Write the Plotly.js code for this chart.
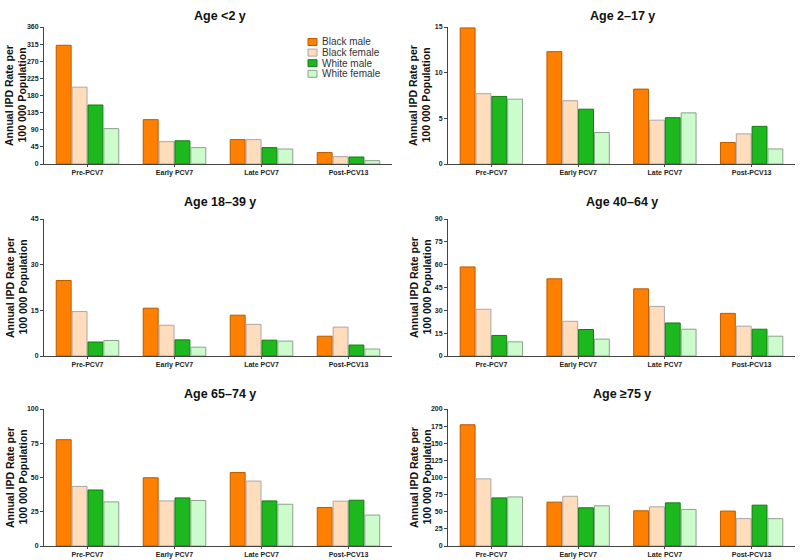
<!DOCTYPE html>
<html>
<head>
<meta charset="utf-8">
<script src="https://cdn.plot.ly/plotly-3.0.1.min.js"></script>
<style>
  html, body { margin: 0; padding: 0; background: #fff; }
  #chart { width: 800px; height: 560px; }
</style>
</head>
<body>
<div id="chart"></div>
<script>
// periods on the x axis of every panel
const periods = ['Pre-PCV7', 'Early PCV7', 'Late PCV7', 'Post-PCV13'];
const ageGroups = ['Age <2 y', 'Age 2\u201317 y', 'Age 18\u201339 y', 'Age 40\u201364 y', 'Age 65\u201374 y', 'Age \u226575 y'];
const seriesNames = ['Black male', 'Black female', 'White male', 'White female'];
const yTitleLines = ['Annual IPD Rate per', '100 000 Population'];

// one row per age group, one value per period (rate per 100 000)
const blackMale   = [[312, 116.5, 64, 30], [14.9, 12.3, 8.2, 2.35], [24.8, 15.7, 13.4, 6.5], [58.5, 50.7, 44.1, 28], [77.6, 49.8, 53.6, 28.1], [177, 64, 51.4, 51]];
const blackFemale = [[202, 58.7, 64, 19.3], [7.7, 6.93, 4.8, 3.3], [14.6, 10.1, 10.4, 9.5], [30.7, 22.8, 32.6, 19.6], [43.5, 32.9, 47.4, 32.7], [98, 72.6, 57.2, 40]];
const whiteMale   = [[155, 61, 43, 18.4], [7.4, 6.0, 5.07, 4.12], [4.6, 5.3, 5.2, 3.6], [13.5, 17.4, 21.7, 17.6], [40.9, 35.1, 32.9, 33.4], [70.2, 55.8, 63, 59.6]];
const whiteFemale = [[93, 43, 39.4, 8.8], [7.1, 3.45, 5.6, 1.65], [5.1, 2.9, 4.9, 2.3], [9.3, 11.1, 17.6, 13], [32.2, 33.2, 30.5, 22.6], [71.6, 58.7, 53.4, 39.9]];

// y axis ranges and tick steps per panel
const yMax  = [360, 15, 45, 90, 100, 200];
const yStep = [45, 5, 15, 15, 25, 25];

const allSeries = [blackMale, blackFemale, whiteMale, whiteFemale];
const fills   = ['#ff8000', '#ffdcbc', '#1db81d', '#ccfccc'];
const borders = ['#b85a00', '#a8a8a8', '#157a15', '#8fa08f'];

const W = 800, H = 560;
const font = 'Liberation Sans, Arial, sans-serif';
const colLeft  = [44, 448];
const colRight = [392, 795];
const rowTop    = [27, 219, 409];
const rowBottom = [164, 356, 546];
const titleY    = [16, 202, 394];

const traces = [];
const layout = {
  width: W, height: H,
  margin: { l: 0, r: 0, t: 0, b: 0 },
  paper_bgcolor: '#fff', plot_bgcolor: '#fff',
  barmode: 'group', bargap: 0.27, bargroupgap: 0.06,
  showlegend: false,
  font: { family: font, color: '#222' },
  annotations: [], shapes: []
};

ageGroups.forEach((age, p) => {
  const row = Math.floor(p / 2), col = p % 2;
  const n = p === 0 ? '' : String(p + 1);
  allSeries.forEach((series, s) => {
    traces.push({
      type: 'bar',
      name: seriesNames[s],
      x: periods,
      y: series[p],
      xaxis: 'x' + n,
      yaxis: 'y' + n,
      marker: { color: fills[s], line: { color: borders[s], width: 1 } },
      hoverinfo: 'y'
    });
  });

  layout['xaxis' + n] = {
    domain: [colLeft[col] / W, colRight[col] / W],
    anchor: 'y' + n,
    showline: true, linecolor: '#444', linewidth: 1,
    ticks: 'outside', ticklen: 2, tickcolor: '#444',
    showgrid: false, zeroline: false,
    tickfont: { family: font, size: 7, color: '#222', weight: 'bold' }
  };
  layout['yaxis' + n] = {
    domain: [1 - rowBottom[row] / H, 1 - rowTop[row] / H],
    anchor: 'x' + n,
    range: [0, yMax[p]],
    tick0: 0, dtick: yStep[p],
    showline: true, linecolor: '#444', linewidth: 1,
    ticks: 'outside', ticklen: 3, tickcolor: '#444',
    showgrid: false, zeroline: false,
    tickfont: { family: font, size: 7, color: '#222', weight: 'bold' }
  };

  // panel title
  layout.annotations.push({
    text: '<b>' + age + '</b>',
    xref: 'paper', yref: 'paper',
    x: (col === 0 ? 220 : 622) / W, y: 1 - titleY[row] / H,
    xanchor: 'center', yanchor: 'middle', showarrow: false,
    font: { family: font, size: 12.5, color: '#111' }
  });
  // y axis title, one annotation per line
  yTitleLines.forEach((line, k) => {
    layout.annotations.push({
      text: '<b>' + line + '</b>',
      xref: 'paper', yref: 'paper',
      x: ((col === 0 ? 9.5 : 413.5) + k * 12.5) / W,
      y: 1 - (rowTop[row] + rowBottom[row]) / 2 / H,
      xanchor: 'center', yanchor: 'middle', showarrow: false,
      textangle: -90, borderpad: 0,
      font: { family: font, size: 10.5, color: '#111' }
    });
  });
});

// legend drawn in the first panel
seriesNames.forEach((name, s) => {
  const cy = 42 + s * 10.6;
  layout.shapes.push({
    type: 'rect', xref: 'paper', yref: 'paper',
    x0: 308 / W, x1: 317 / W, y0: 1 - (cy + 3.5) / H, y1: 1 - (cy - 3.5) / H,
    fillcolor: fills[s], line: { color: borders[s], width: 1 }
  });
  layout.annotations.push({
    text: name, xref: 'paper', yref: 'paper',
    x: 321 / W, y: 1 - cy / H, xanchor: 'left', yanchor: 'middle',
    showarrow: false, borderpad: 0,
    font: { family: font, size: 10, color: '#333' }
  });
});

Plotly.newPlot('chart', traces, layout, { displayModeBar: false, staticPlot: true });
</script>
</body>
</html>
